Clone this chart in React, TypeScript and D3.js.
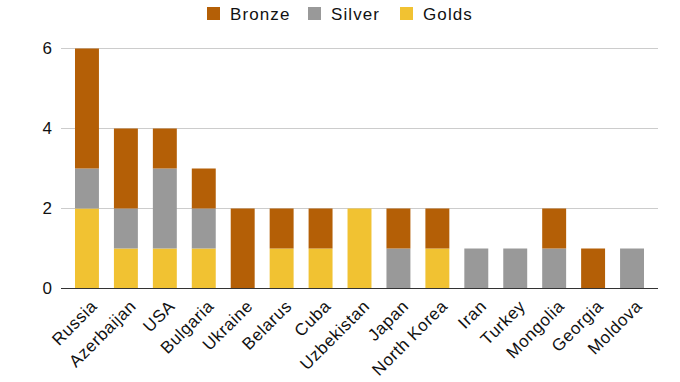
import React from "react";
import * as d3 from "d3";

const countries = ["Russia","Azerbaijan","USA","Bulgaria","Ukraine","Belarus","Cuba","Uzbekistan","Japan","North Korea","Iran","Turkey","Mongolia","Georgia","Moldova"];
const golds =  [2,1,1,1,0,1,1,2,0,1,0,0,0,0,0];
const silver = [1,1,2,1,0,0,0,0,1,0,1,1,1,0,1];
const bronze = [3,2,1,1,2,1,1,0,1,1,0,0,1,1,0];
const yTicks = [0,2,4,6];
const seriesKeys = ["Golds","Silver","Bronze"];
const legendKeys = ["Bronze","Silver","Golds"];
const colors: Record<string,string> = { Bronze: "#b45f06", Silver: "#999999", Golds: "#f1c232" };

export default function App() {
  const W = 680, H = 382;
  const font = "'Liberation Sans', Arial, sans-serif";
  const x = d3.scaleBand<string>().domain(countries).range([67.5, 651.5]).paddingInner(0.385).paddingOuter(0.1925);
  const y = d3.scaleLinear().domain([0, 6]).range([288.5, 48.5]);
  const rows = countries.map((c, i) => ({ c, Golds: golds[i], Silver: silver[i], Bronze: bronze[i] }));
  const stacked = d3.stack<any>().keys(seriesKeys)(rows);
  const legendX = [207, 308, 400];
  return (
    <svg width={W} height={H} style={{ position: "absolute", left: 0, top: 0, fontFamily: font }}>
      <rect width={W} height={H} fill="#fff" />
      {yTicks.map(t => (
        <g key={t}>
          {t !== 0 && <line x1={61} x2={658} y1={y(t)} y2={y(t)} stroke="#cccccc" strokeWidth={1} />}
          <text x={52} y={y(t)} dy="0.35em" textAnchor="end" fontSize={17} fill="#111">{t}</text>
        </g>
      ))}
      {stacked.map(s => (
        <g key={s.key} fill={colors[s.key]}>
          {s.map((d, i) => d[1] - d[0] > 0 ? (
            <rect key={i} x={x(countries[i])} width={x.bandwidth()} y={y(d[1])} height={y(d[0]) - y(d[1])} />
          ) : null)}
        </g>
      ))}
      <line x1={61} x2={658} y1={y(0)} y2={y(0)} stroke="#333" strokeWidth={1} />
      {countries.map(c => {
        const cx = (x(c) as number) + x.bandwidth() / 2;
        return (
          <text key={c} transform={`translate(${cx + 7},${303}) rotate(-45)`} textAnchor="end" dy="0.35em" fontSize={17} letterSpacing={0.6} fill="#111">{c}</text>
        );
      })}
      {legendKeys.map((k, i) => (
        <g key={k}>
          <rect x={legendX[i]} y={7} width={13} height={13} fill={colors[k]} />
          <text x={legendX[i] + 23} y={14} dy="0.35em" fontSize={17} letterSpacing={1.1} fill="#111">{k}</text>
        </g>
      ))}
    </svg>
  );
}
